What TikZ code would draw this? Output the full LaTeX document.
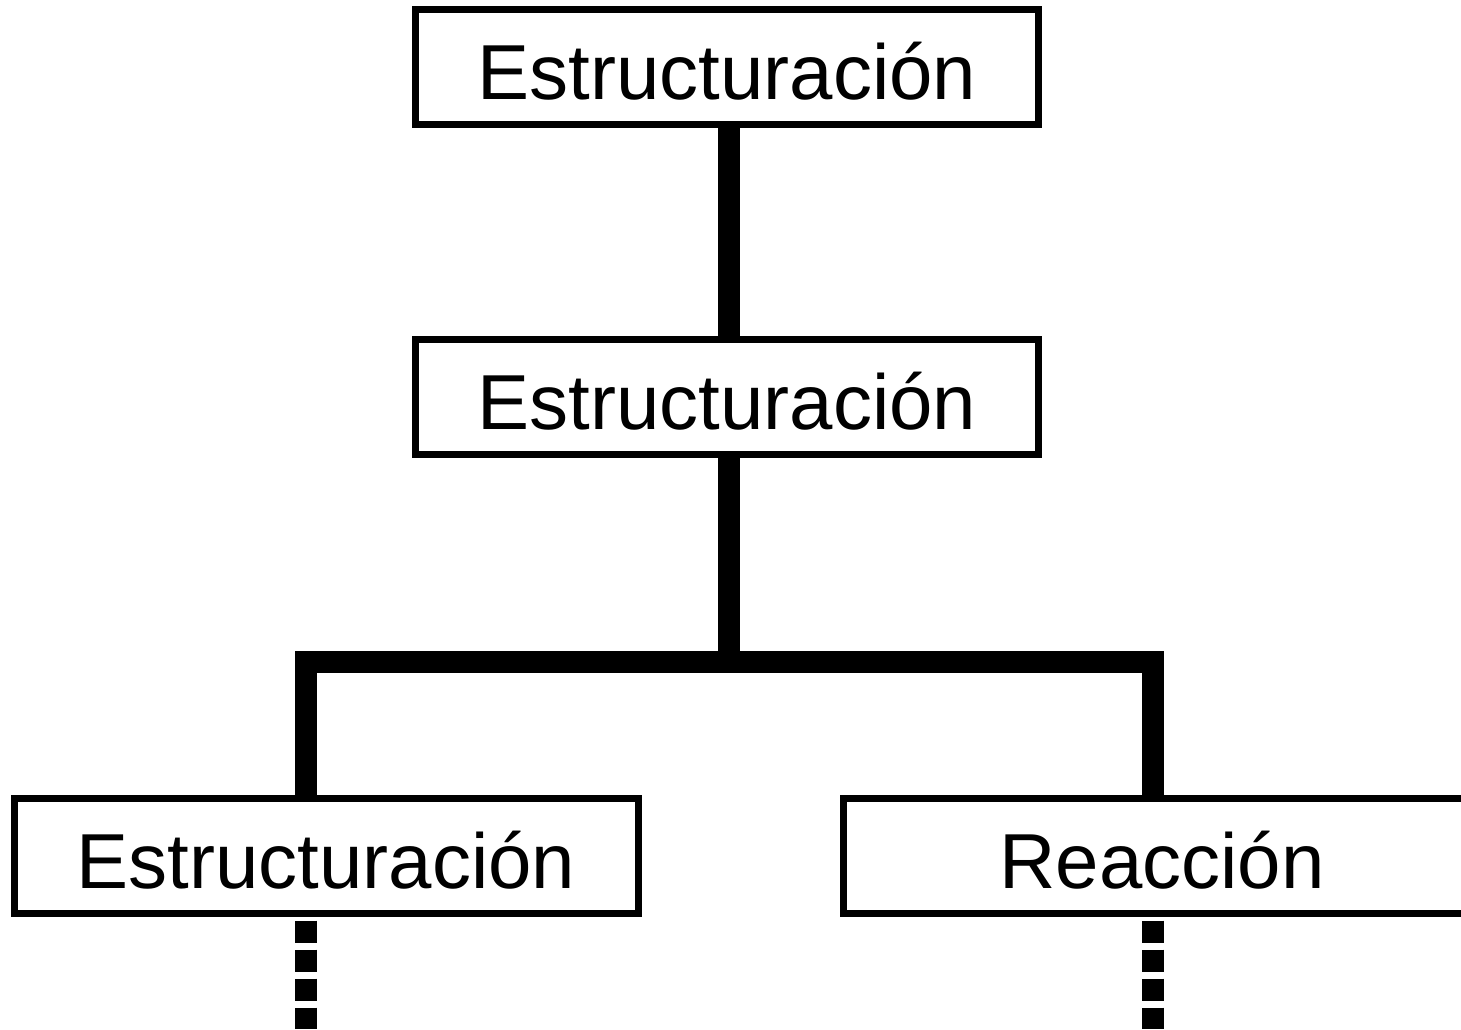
\documentclass[tikz,border=0pt]{standalone}
\usepackage{fontspec}
\setmainfont{Liberation Sans}
\begin{document}
\begin{tikzpicture}[x=1pt,y=-1pt,
  box/.style={draw=black, line width=7pt, rectangle, inner sep=0pt,
    minimum height=115pt, text height=64pt, text depth=0pt,
    font=\fontsize{78pt}{90pt}\selectfont},
  conn/.style={line width=22pt, line join=miter, line cap=butt},
  dashline/.style={line width=22pt, dash pattern=on 22pt off 7pt, line cap=butt}]
\useasboundingbox (0,0) rectangle (1461,1029);
\fill[white] (0,0) rectangle (1461,1029);
\node[box, minimum width=623pt] (top) at (727,67) {Estructuración};
\node[box, minimum width=623pt] (mid) at (727,397) {Estructuración};
\node[box, minimum width=624pt] (bl) at (326,856) {Estructuración};
\begin{scope}
\clip (0,0) rectangle (1461,1029);
\node[box, minimum width=637pt] (br) at (1162,856) {Reacción};
\end{scope}
\coordinate (jt) at (729,662);
\coordinate (jl) at (306,662);
\coordinate (jr) at (1152.5,662);
\draw[conn] (top.south -| jt) -- (mid.north -| jt);
\draw[conn] (mid.south -| jt) -- (jt);
\draw[conn] (bl.north -| jl) -- (jl) -- (jr) -- (br.north -| jr);
\coordinate (dl) at ([yshift=-3.5pt]bl.south -| jl);
\coordinate (dr) at ([yshift=-3.5pt]br.south -| jr);
\draw[dashline] (dl) -- ([yshift=-108pt]dl);
\draw[dashline] (dr) -- ([yshift=-108pt]dr);
\end{tikzpicture}
\end{document}
